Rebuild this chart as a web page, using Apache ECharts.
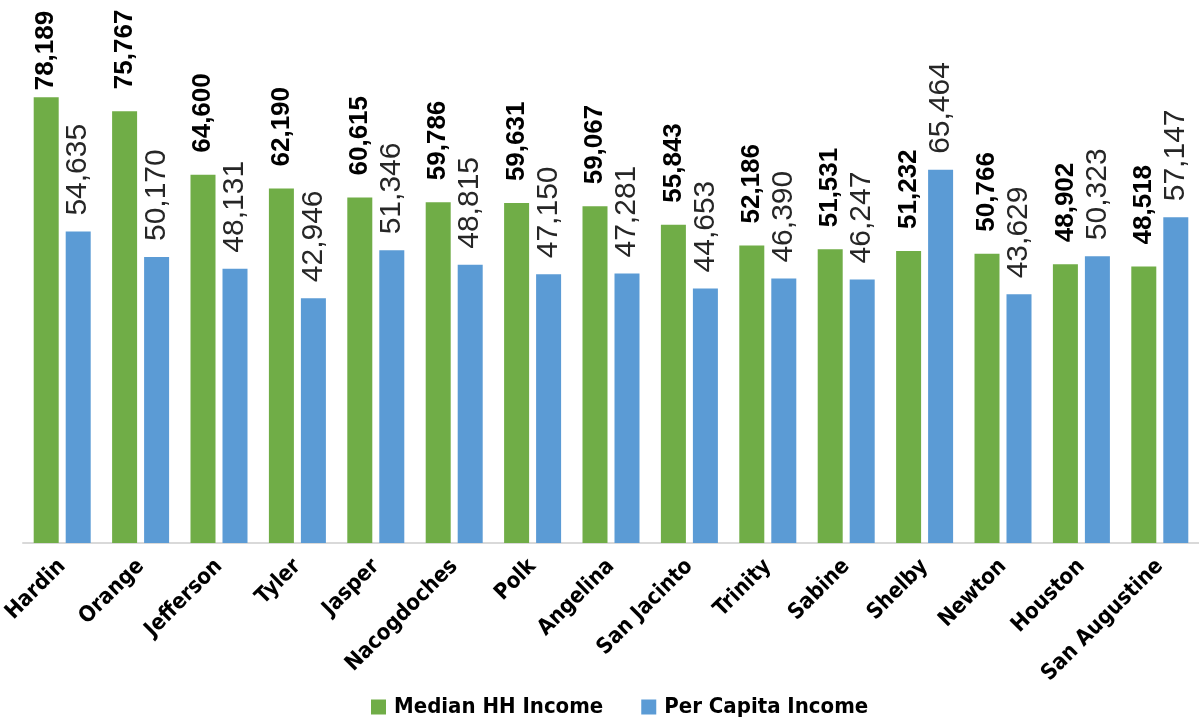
<!DOCTYPE html>
<html>
<head>
<meta charset="utf-8">
<script src="https://cdn.jsdelivr.net/npm/echarts@6/dist/echarts.min.js"></script>
<style>
  html, body { margin: 0; padding: 0; background: #fff; }
  #chart { width: 1199px; height: 723px; }
</style>
</head>
<body>
<div id="chart"></div>
<script>
// counties, ordered as in the source chart
const counties = ['Hardin', 'Orange', 'Jefferson', 'Tyler', 'Jasper', 'Nacogdoches', 'Polk', 'Angelina',
    'San Jacinto', 'Trinity', 'Sabine', 'Shelby', 'Newton', 'Houston', 'San Augustine'];
const medianHHIncome = [78189, 75767, 64600, 62190, 60615, 59786, 59631, 59067, 55843, 52186, 51531, 51232, 50766, 48902, 48518];
const perCapitaIncome = [54635, 50170, 48131, 42946, 51346, 48815, 47150, 47281, 44653, 46390, 46247, 65464, 43629, 50323, 57147];

const narrowFont = "'Liberation Sans Narrow', 'DejaVu Sans Condensed', sans-serif";
const valueFont = "'Liberation Sans', Arial, sans-serif";
const fmt = (p) => p.value.toLocaleString('en-US');

const chart = echarts.init(document.getElementById('chart'));

// the tallest label would run off the top, so it hugs its bar instead
const medianData = medianHHIncome.map(v => v > 77000 ? { value: v, label: { distance: 7 } } : v);

const option = {
    animation: false,
    grid: { left: 23, right: 0, top: 87, bottom: 180, outerBoundsMode: 'none' },
    legend: {
        bottom: 0,
        left: 366,
        icon: 'rect',
        itemWidth: 15,
        itemHeight: 15,
        itemGap: 38,
        textStyle: {
            fontFamily: narrowFont,
            fontWeight: 'bold',
            fontSize: 22,
            color: '#000',
            padding: [0, 0, 0, 3]
        }
    },
    xAxis: {
        type: 'category',
        data: counties,
        axisLine: { lineStyle: { color: '#d9d9d9', width: 2 } },
        axisTick: { show: false },
        axisLabel: {
            interval: 0,
            rotate: 45,
            margin: 20,
            fontFamily: narrowFont,
            fontWeight: 'bold',
            fontSize: 22,
            color: '#000'
        }
    },
    yAxis: {
        type: 'value',
        min: 0,
        max: 80000,
        show: false,
        splitLine: { show: false }
    },
    series: [
        {
            name: 'Median HH Income',
            type: 'bar',
            data: medianData,
            barWidth: 25,
            barGap: '28%',
            itemStyle: { color: '#70AD47' },
            label: {
                show: true,
                position: 'top',
                rotate: 90,
                align: 'left',
                verticalAlign: 'middle',
                distance: 22,
                formatter: fmt,
                fontFamily: valueFont,
                fontWeight: 'bold',
                fontSize: 26,
                color: '#000'
            }
        },
        {
            name: 'Per Capita Income',
            type: 'bar',
            data: perCapitaIncome,
            barWidth: 25,
            itemStyle: { color: '#5B9BD5' },
            label: {
                show: true,
                position: 'top',
                rotate: 90,
                align: 'left',
                verticalAlign: 'middle',
                distance: 16,
                formatter: fmt,
                fontFamily: valueFont,
                fontSize: 30,
                color: '#262626'
            }
        }
    ]
};

chart.setOption(option);
</script>
</body>
</html>
